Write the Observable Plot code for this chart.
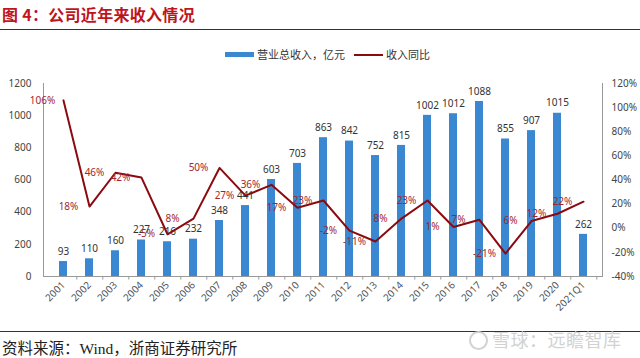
<!DOCTYPE html>
<html>
<head>
<meta charset="utf-8">
<script src="https://cdn.jsdelivr.net/npm/d3@7"></script>
<script src="https://cdn.jsdelivr.net/npm/@observablehq/plot@0.6"></script>
<style>
  html, body { margin: 0; padding: 0; background: #fff; }
  #wrap { position: relative; width: 640px; height: 358px; overflow: hidden; font-family: "Noto Sans CJK SC", "Noto Sans", sans-serif; }
  #title { position: absolute; left: 2px; top: 2px; font-size: 16px; font-weight: bold; color: #c0141c; letter-spacing: 0.3px; }
  #topline { position: absolute; left: 0; top: 29px; width: 640px; height: 0; border-top: 1.5px solid #333; }
  #chart { position: absolute; left: 0; top: 30px; }
  .leg { position: absolute; font-size: 11px; color: #333; top: 46px; }
  .sw { position: absolute; }
  #botline { position: absolute; left: 0; top: 331px; width: 640px; height: 0; border-top: 1.5px solid #333; }
  #source { position: absolute; left: 2px; top: 336px; font-family: "Liberation Serif", "Noto Sans CJK SC", serif; font-size: 15.5px; color: #222; }
  #wm { position: absolute; left: 492px; top: 326px; font-size: 18px; color: #d2d2d2; letter-spacing: 0.5px; }
  #logo { position: absolute; left: 469px; top: 331px; width: 15px; height: 15px; border: 2px solid #d2d2d2; border-radius: 50%; }
</style>
</head>
<body>
<div id="wrap">
  <div id="title">图 4：公司近年来收入情况</div>
  <div id="topline"></div>
  <div id="chart"></div>
  <div class="sw" style="left:225px; top:52px; width:29px; height:5px; background:#3a87d2;"></div>
  <div class="leg" style="left:257px;">营业总收入，亿元</div>
  <div class="sw" style="left:354px; top:54px; width:29px; height:2px; background:#8b0a0f;"></div>
  <div class="leg" style="left:386px;">收入同比</div>
  <div id="botline"></div>
  <div id="source">资料来源：Wind，浙商证券研究所</div>
  <div id="logo"></div>
  <div id="wm">雪球：远瞻智库</div>
</div>
<script>
const years = ["2001","2002","2003","2004","2005","2006","2007","2008","2009","2010","2011","2012","2013","2014","2015","2016","2017","2018","2019","2020","2021Q1"];
const revenue = [93,110,160,227,216,232,348,441,603,703,863,842,752,815,1002,1012,1088,855,907,1015,262];
const growth = [106,18,46,42,-5,8,50,27,36,17,23,-2,-11,8,23,1,7,-21,6,12,22];
const leftTicks = [0,200,400,600,800,1000,1200];
const rightTicks = [-40,-20,0,20,40,60,80,100,120];

// map right-axis percent to left-axis scale: -40% -> 0, 120% -> 1200
const toLeft = p => (p + 40) * 7.5;

const rows = years.map((y, i) => ({year: y, rev: revenue[i], g: growth[i], gy: toLeft(growth[i])}));

const chart = Plot.plot({
  width: 640,
  height: 301,
  marginTop: 53,
  marginBottom: 55,
  marginLeft: 43,
  marginRight: 38,
  style: {fontFamily: "'Noto Sans', 'DejaVu Sans', sans-serif", fontSize: "10px", color: "#444", background: "transparent"},
  x: {domain: years, paddingInner: 0.7, paddingOuter: 0.35, label: null},
  y: {domain: [0, 1200], label: null},
  marks: [
    Plot.barY(rows, {x: "year", y: "rev", fill: "#3a87d2"}),
    Plot.ruleY([0], {stroke: "#999", strokeWidth: 1}),
    Plot.ruleX(years, {x: d => d, y1: 0, y2: -22, dx: 13.3, stroke: "#999"}),
    Plot.frame({anchor: "left", stroke: "#999"}),
    Plot.frame({anchor: "right", stroke: "#999"}),
    Plot.axisY({anchor: "left", ticks: leftTicks, tickFormat: d => String(d), tickSize: 0, tickPadding: 12, fill: "#444", fontSize: 10}),
    Plot.axisY({anchor: "right", ticks: rightTicks.map(toLeft), tickFormat: d => Math.round(d / 7.5 - 40) + "%", tickSize: 0, tickPadding: 9, fill: "#444", fontSize: 10}),
    Plot.axisX({tickRotate: -45, tickSize: 0, tickPadding: 7, fill: "#555", fontSize: 10}),
    Plot.text(rows, {x: "year", y: "rev", text: d => String(d.rev), dy: -10, fill: "#333", fontSize: 10}),
    Plot.lineY(rows, {x: "year", y: "gy", stroke: "#8b0a0f", strokeWidth: 2}),
    Plot.text(rows, {x: "year", y: "gy", text: d => d.g + "%", dx: -21, fill: "#a3262e", fontSize: 10})
  ]
});
document.getElementById("chart").appendChild(chart);
</script>
</body>
</html>
